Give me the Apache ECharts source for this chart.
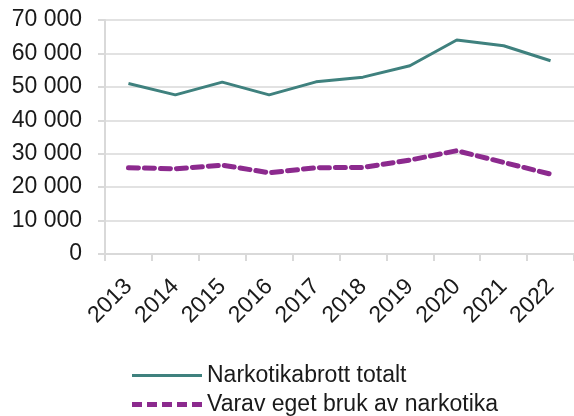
<!DOCTYPE html>
<html>
<head>
<meta charset="utf-8">
<script src="https://cdn.jsdelivr.net/npm/echarts@6/dist/echarts.min.js"></script>
<style>
  html, body { margin: 0; padding: 0; background: #fff; }
  #chart { width: 574px; height: 416px; }
</style>
</head>
<body>
<div id="chart"></div>
<script>
// data
const years = ['2013', '2014', '2015', '2016', '2017', '2018', '2019', '2020', '2021', '2022'];
const totalt = [51000, 47600, 51400, 47600, 51500, 52900, 56300, 64000, 62300, 57800];
const egetBruk = [25800, 25500, 26600, 24300, 25800, 25900, 28100, 30900, 27400, 23900];
const seriesNames = ['Narkotikabrott totalt', 'Varav eget bruk av narkotika'];

const font = '"Liberation Sans", Arial, sans-serif';
const gridColor = '#d9d9d9';
const teal = '#3f817e';
const purple = '#8c2a8e';

// legend icons: solid bar and dashed bar
const solidIcon = 'path://M0,0h70v3h-70z';
const dashedIcon = 'path://M0,0h10v5h-10z M15,0h10v5h-10z M30,0h10v5h-10z M45,0h10v5h-10z M60,0h10v5h-10z';

function fmt (v) {
	return String(v).replace(/\B(?=(\d{3})+(?!\d))/g, ' ');
}

const chart = echarts.init(document.getElementById('chart'), null, { renderer: 'canvas' });
chart.setOption({
	animation: false,
	textStyle: { fontFamily: font },
	grid: {
		left: 105,
		right: -3,
		top: 20,
		bottom: 162
	},
	xAxis: {
		type: 'category',
		data: years,
		boundaryGap: true,
		axisLine: { lineStyle: { color: gridColor, width: 2 } },
		axisTick: { show: true, length: 7, lineStyle: { color: gridColor, width: 2 } },
		axisLabel: {
			rotate: 45,
			margin: 29,
			fontSize: 23,
			color: '#1a1a1a',
			fontFamily: font
		}
	},
	yAxis: {
		type: 'value',
		min: 0,
		max: 70000,
		interval: 10000,
		axisLine: { show: true, lineStyle: { color: gridColor, width: 2 } },
		axisTick: { show: true, length: 7, lineStyle: { color: gridColor, width: 2 } },
		splitLine: { lineStyle: { color: gridColor, width: 1.5 } },
		axisLabel: {
			margin: 23,
			fontSize: 23,
			color: '#1a1a1a',
			fontFamily: font,
			formatter: fmt
		}
	},
	legend: {
		orient: 'vertical',
		left: 132,
		top: 364,
		padding: 0,
		itemWidth: 70,
		itemHeight: 14,
		itemGap: 6,
		textStyle: { fontSize: 23, color: '#1a1a1a', fontFamily: font },
		data: [
			{ name: seriesNames[0], icon: solidIcon },
			{ name: seriesNames[1], icon: dashedIcon }
		]
	},
	series: [
		{
			name: seriesNames[0],
			type: 'line',
			data: totalt,
			symbol: 'none',
			lineStyle: { color: teal, width: 3 },
			itemStyle: { color: teal }
		},
		{
			name: seriesNames[1],
			type: 'line',
			data: egetBruk,
			symbol: 'none',
			lineStyle: { color: purple, width: 5, type: [10, 6], cap: 'round' },
			itemStyle: { color: purple }
		}
	]
});
</script>
</body>
</html>
